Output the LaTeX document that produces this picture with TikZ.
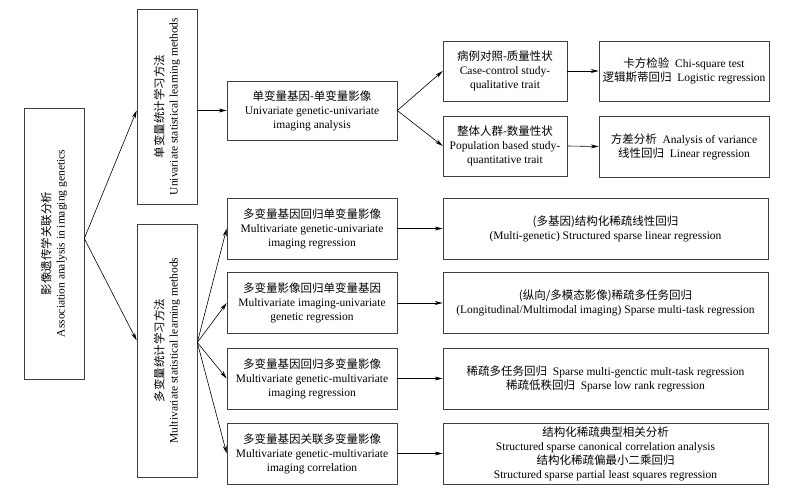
\documentclass[tikz,border=0pt]{standalone}
\usepackage{fontspec}
\setmainfont{Liberation Serif}
\newfontfamily\cjk{Noto Sans CJK SC}
\newcommand{\zh}[1]{{\cjk #1}}
\usepackage{tikz}
\usetikzlibrary{positioning,arrows.meta}

\tikzset{
    box/.style={draw=black!75, line width=0.6pt, align=center, inner sep=2pt,
        font=\fontsize{11.5}{14}\selectfont},
    vbox/.style={box, rotate=90, minimum height=60pt},
    arr/.style={-{Stealth[length=8pt,width=4pt]}, line width=0.6pt},
}

\begin{document}
\begin{tikzpicture}[x=1pt,y=-1pt]
    \useasboundingbox (0,0) rectangle (785,492);

    % Root and the two method groups
    \node[vbox, minimum width=271pt] (root) at (54,243.5) {\zh{影像遗传学关联分析}\\Association analysis in imaging genetics};
    \node[vbox, minimum width=195pt] (uni) at (167,106.5) {\zh{单变量统计学习方法}\\Univariate statistical learning methods};
    \node[vbox, minimum width=253pt] (multi) at (167,350.5) {\zh{多变量统计学习方法}\\Multivariate statistical learning methods};
    \coordinate (rootout) at ([yshift=5pt]root.south);
    \coordinate (multiout) at ([yshift=8pt]multi.south);
    \draw[arr] (rootout) -- ([yshift=-4pt]uni.north);
    \draw[arr] (rootout) -- ([yshift=10pt]multi.north);

    % Univariate branch
    \node[box, minimum width=170pt, minimum height=59pt] (ua) at (312,110.5) {\zh{单变量基因-单变量影像}\\Univariate genetic-univariate\\imaging analysis};
    \node[box, minimum width=124pt, minimum height=60pt] (cc) at (505,71) {\zh{病例对照-质量性状}\\Case-control study-\\qualitative trait};
    \node[box, minimum width=124pt, minimum height=60pt] (pop) at (505,146) {\zh{整体人群-数量性状}\\Population based study-\\quantitative trait};
    \node[box, minimum width=170pt, minimum height=60pt] (chi) at (684,71) {\zh{卡方检验}\ \ Chi-square test\\\zh{逻辑斯蒂回归}\ \ Logistic regression};
    \node[box, minimum width=170pt, minimum height=61pt] (anova) at (684,146.5) {\zh{方差分析}\ \ Analysis of variance\\\zh{线性回归}\ \ Linear regression};
    \draw[arr] (uni.south |- ua.west) -- (ua.west);
    \draw[arr] (ua.east) -- (cc.west);
    \draw[arr] (ua.east) -- (pop.west);
    \draw[arr] (cc.east) -- (chi.west);
    \draw[arr] (pop.east) -- (anova.west);

    % Multivariate branch
    \foreach \i/\y/\task/\meth in {
        1/228.5/{\zh{多变量基因回归单变量影像}\\Multivariate genetic-univariate\\imaging regression}/{\zh{(多基因)结构化稀疏线性回归}\\(Multi-genetic) Structured sparse linear regression},
        2/303/{\zh{多变量影像回归单变量基因}\\Multivariate imaging-univariate\\genetic regression}/{\zh{(纵向/多模态影像)稀疏多任务回归}\\(Longitudinal/Multimodal imaging) Sparse multi-task regression},
        3/378.5/{\zh{多变量基因回归多变量影像}\\Multivariate genetic-multivariate\\imaging regression}/{\zh{稀疏多任务回归}\ \ Sparse multi-genctic mult-task regression\\\zh{稀疏低秩回归}\ \ Sparse low rank regression},
        4/453.5/{\zh{多变量基因关联多变量影像}\\Multivariate genetic-multivariate\\imaging correlation}/{\zh{结构化稀疏典型相关分析}\\Structured sparse canonical correlation analysis\\\zh{结构化稀疏偏最小二乘回归}\\Structured sparse partial least squares regression}} {
        \node[box, minimum width=170pt, minimum height=61pt] (m\i) at (312,\y) {\task};
        \node[box, minimum width=325pt, minimum height=61pt] (r\i) at (605.5,\y) {\meth};
        \draw[arr] (multiout) -- (m\i.west);
        \draw[arr] (m\i.east) -- (r\i.west);
    }
\end{tikzpicture}
\end{document}
